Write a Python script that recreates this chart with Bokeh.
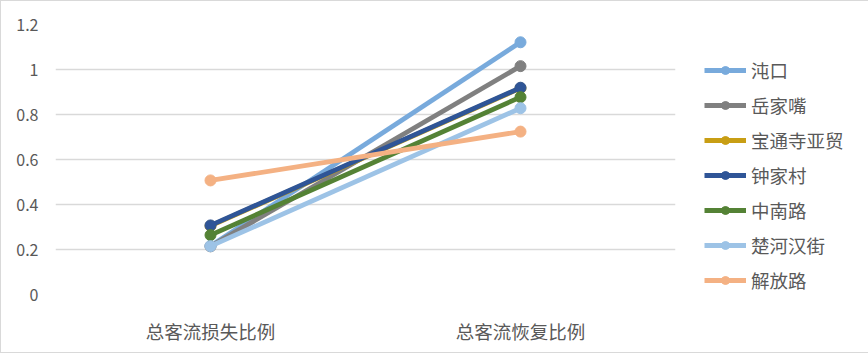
from bokeh.plotting import figure
from bokeh.models import Range1d, FactorRange, Legend, LegendItem, NumeralTickFormatter, FixedTicker
from bokeh.embed import file_html
from bokeh.resources import INLINE

categories = ["总客流损失比例", "总客流恢复比例"]
series_names = ["沌口", "岳家嘴", "宝通寺亚贸", "钟家村", "中南路", "楚河汉街", "解放路"]
v_zhuankou = [0.216, 1.121]
v_yuejiazui = [0.214, 1.015]
v_baotongsi = [0.305, 0.917]
v_zhongjiacun = [0.307, 0.919]
v_zhongnanlu = [0.264, 0.877]
v_chuhehanjie = [0.215, 0.828]
v_jiefanglu = [0.507, 0.724]
series_values = [v_zhuankou, v_yuejiazui, v_baotongsi, v_zhongjiacun, v_zhongnanlu, v_chuhehanjie, v_jiefanglu]
colors = ["#78AADC", "#808080", "#C89E14", "#2F5597", "#548235", "#9DC3E6", "#F4B183"]
y_ticks = [0, 0.2, 0.4, 0.6, 0.8, 1.0, 1.2]

FONT = "Noto Sans CJK SC"
TXT = "#595959"

p = figure(frame_width=620, frame_height=270, x_range=FactorRange(*categories, range_padding=0),
           y_range=Range1d(0, 1.2), output_backend="svg", toolbar_location=None,
           min_border_left=54, min_border_right=192, min_border_top=23, min_border_bottom=58)
p.styles = {"border": "1px solid #D9D9D9"}
p.outline_line_color = None
p.background_fill_color = "white"
p.border_fill_color = "white"

p.xgrid.grid_line_color = None
p.ygrid.grid_line_color = "#D9D9D9"
p.ygrid.grid_line_width = 1.3
p.yaxis.ticker = FixedTicker(ticks=y_ticks)
p.yaxis.formatter = NumeralTickFormatter(format="0.[0]")
for ax in (p.xaxis, p.yaxis):
    ax.axis_line_color = None
    ax.major_tick_line_color = None
    ax.minor_tick_line_color = None
    ax.major_label_text_font = FONT
    ax.major_label_text_color = TXT
p.yaxis.major_label_text_font_size = "16px"
p.yaxis.major_label_standoff = 11
p.xaxis.major_label_text_font_size = "18.5px"
p.xaxis.major_label_standoff = 17

items = []
for name, vals, c in zip(series_names, series_values, colors):
    r1 = p.line(categories, vals, line_color=c, line_width=4.8)
    r2 = p.scatter(categories, vals, size=11, fill_color=c, line_color=c)
    items.append(LegendItem(label=name, renderers=[r1, r2]))

legend = Legend(items=items, location=(29, 1))
legend.glyph_width = 42
legend.glyph_height = 20
legend.label_height = 20
legend.spacing = 9
legend.padding = 0
legend.margin = 0
legend.label_standoff = 5
legend.border_line_color = None
legend.background_fill_alpha = 0
legend.label_text_font = FONT
legend.label_text_font_size = "18.5px"
legend.label_text_color = TXT
p.add_layout(legend, "right")

open("out.html", "w").write(file_html(p, INLINE))
